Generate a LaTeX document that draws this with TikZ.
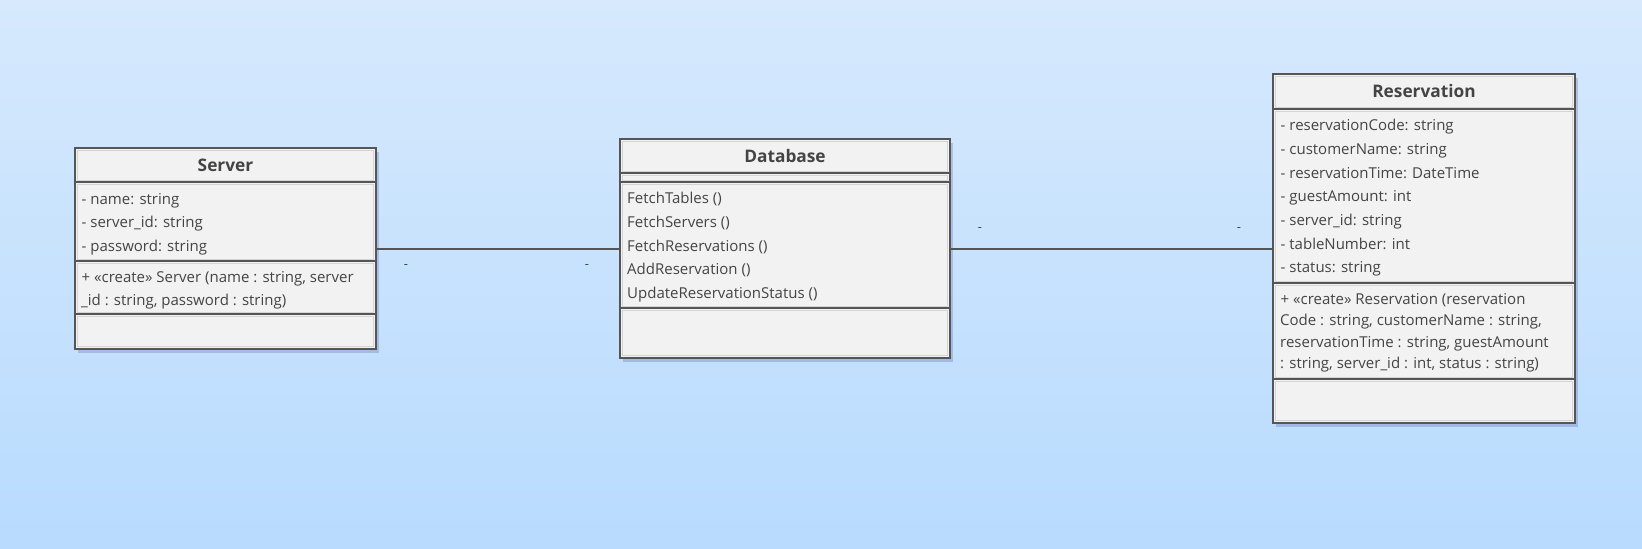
\documentclass[tikz,border=0pt]{standalone}
\usepackage{fontspec}
\setmainfont{Open Sans}
\usetikzlibrary{shadows}
\definecolor{bgtop}{RGB}{214,233,253}
\definecolor{bgbot}{RGB}{184,219,254}
\definecolor{boxfill}{RGB}{242,242,242}
\definecolor{boxline}{RGB}{85,85,85}
\definecolor{innerline}{RGB}{212,212,212}
\definecolor{txtcol}{RGB}{68,68,68}
\begin{document}
\begin{tikzpicture}[x=1pt,y=-1pt,
  classbox/.style={draw=boxline, line width=2.6pt, fill=boxfill,
    drop shadow={opacity=0.16, shadow xshift=3pt, shadow yshift=-4pt, fill=black!60!blue}},
  inner/.style={draw=innerline, line width=0.8pt},
  divider/.style={draw=boxline, line width=2pt},
  conn/.style={draw=boxline, line width=2pt},
  txt/.style={anchor=base west, inner sep=0pt, text=txtcol, font=\fontsize{15}{17}\selectfont},
  ttl/.style={anchor=center, inner sep=0pt, text=txtcol, font=\bfseries\fontsize{17.3}{20}\selectfont},
  mult/.style={anchor=center, inner sep=0pt, text=txtcol, font=\fontsize{13}{15}\selectfont}
]
\shade[top color=bgtop, bottom color=bgbot] (0,0) rectangle (1642,549);
\useasboundingbox (0,0) rectangle (1642,549);

% ---------------- Server ----------------
\node[classbox, minimum width=301pt, minimum height=201pt, inner sep=0pt] (server) at (225.5,248.5) {};
\draw[inner] (77.5,150.5) rectangle (373.5,180);
\draw[inner] (77.5,184) rectangle (373.5,259);
\draw[inner] (77.5,263) rectangle (373.5,312);
\draw[inner] (77.5,316) rectangle (373.5,346.5);
\draw[divider] (server.west |- 0,182) -- (server.east |- 0,182);
\draw[divider] (server.west |- 0,261) -- (server.east |- 0,261);
\draw[divider] (server.west |- 0,314) -- (server.east |- 0,314);
\node[ttl] (serverT) at (225.5,165) {Server};
\node[txt] (s1) at (81.5,204) {- name: string};
\node[txt] (s2) at (81.5,227.7) {- server\_id: string};
\node[txt] (s3) at (81.5,251.4) {- password: string};
\node[txt] (s4) at (81.5,282.7) {+ «create» Server (name : string, server};
\node[txt] (s5) at (81,305) {\_id : string, password : string)};

% ---------------- Database ----------------
\node[classbox, minimum width=330pt, minimum height=219pt, inner sep=0pt] (database) at (785,248.5) {};
\draw[inner] (622.5,141.5) rectangle (947.5,171);
\draw[inner] (622.5,175) rectangle (947.5,180);
\draw[inner] (622.5,184) rectangle (947.5,306);
\draw[inner] (622.5,310) rectangle (947.5,355.5);
\draw[divider] (database.west |- 0,173.3) -- (database.east |- 0,173.3);
\draw[divider] (database.west |- 0,182) -- (database.east |- 0,182);
\draw[divider] (database.west |- 0,308) -- (database.east |- 0,308);
\node[ttl] (databaseT) at (785,156) {Database};
\node[txt] (d1) at (627,203.7) {FetchTables ()};
\node[txt] (d2) at (627,227.4) {FetchServers ()};
\node[txt] (d3) at (627,251.1) {FetchReservations ()};
\node[txt] (d4) at (627,274.8) {AddReservation ()};
\node[txt] (d5) at (627,298.5) {UpdateReservationStatus ()};

% ---------------- Reservation ----------------
\node[classbox, minimum width=302pt, minimum height=349pt, inner sep=0pt] (reservation) at (1424,248.5) {};
\draw[inner] (1275.5,76.5) rectangle (1572.5,107);
\draw[inner] (1275.5,111) rectangle (1572.5,281);
\draw[inner] (1275.5,285) rectangle (1572.5,377);
\draw[inner] (1275.5,381) rectangle (1572.5,420.5);
\draw[divider] (reservation.west |- 0,109) -- (reservation.east |- 0,109);
\draw[divider] (reservation.west |- 0,283) -- (reservation.east |- 0,283);
\draw[divider] (reservation.west |- 0,379) -- (reservation.east |- 0,379);
\node[ttl] (reservationT) at (1424,91.5) {Reservation};
\node[txt] (r1) at (1280.5,130.7) {- reservationCode: string};
\node[txt] (r2) at (1280.5,154.4) {- customerName: string};
\node[txt] (r3) at (1280.5,178.1) {- reservationTime: DateTime};
\node[txt] (r4) at (1280.5,201.8) {- guestAmount: int};
\node[txt] (r5) at (1280.5,225.5) {- server\_id: string};
\node[txt] (r6) at (1280.5,249.2) {- tableNumber: int};
\node[txt] (r7) at (1280.5,272.9) {- status: string};
\node[txt] (r8) at (1280.5,304) {+ «create» Reservation (reservation};
\node[txt] (r9) at (1280,325.6) {Code : string, customerName : string,};
\node[txt] (r10) at (1280,347.2) {reservationTime : string, guestAmount};
\node[txt] (r11) at (1280,368.8) {: string, server\_id : int, status : string)};

% ---------------- Connectors ----------------
\draw[conn] (server.east) -- (database.west);
\draw[conn] (database.east) -- (reservation.west);
\node[mult] (m1) at (406,267) {-};
\node[mult] (m2) at (587,267) {-};
\node[mult] (m3) at (980,230) {-};
\node[mult] (m4) at (1239,230) {-};
\end{tikzpicture}
\end{document}
